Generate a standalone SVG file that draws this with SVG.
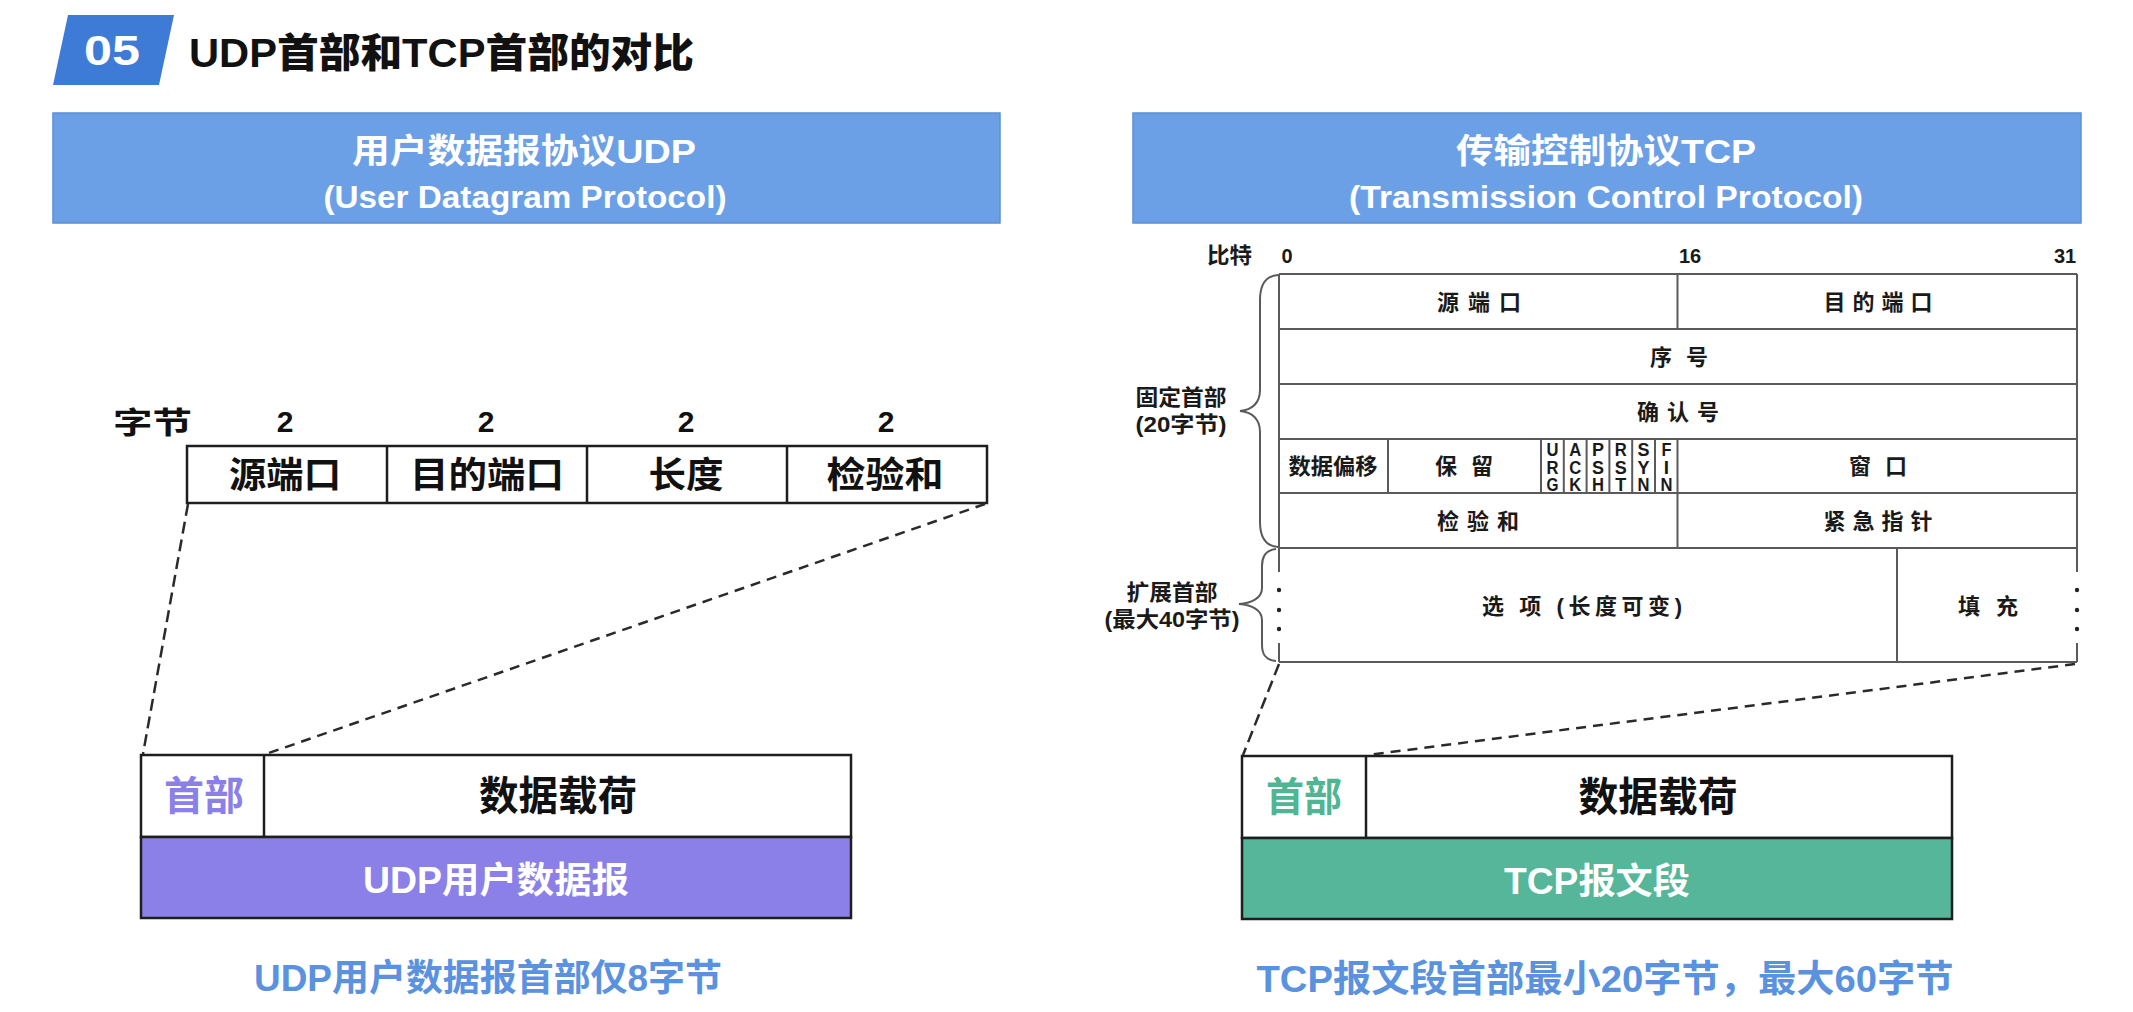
<svg xmlns="http://www.w3.org/2000/svg" width="2133" height="1012" viewBox="0 0 2133 1012">
<style>
text{font-family:"Liberation Sans","Noto Sans CJK SC",sans-serif;font-weight:700}
.c{text-anchor:middle}
.hd{fill:#fff}
.tb{fill:#1a1a1a;font-size:22px}
.tl{stroke:#5a5a5a;stroke-width:2;fill:none}
.bk{stroke:#1e1e1e;stroke-width:2.5}
.dash{stroke:#2a2a2a;stroke-width:2.5;fill:none}
.flag{font-family:"Liberation Sans",sans-serif;font-weight:700;font-size:19px;text-anchor:middle;fill:#1a1a1a}
.cap{fill:#5a92e0;font-size:37px}
</style>
<rect width="2133" height="1012" fill="#ffffff"/>

<g id="title">
  <polygon points="68,15 174,15 159,85 53,85" fill="#3d7bd6"/>
  <text class="c hd" x="112" y="65" font-size="42" textLength="56" lengthAdjust="spacingAndGlyphs">05</text>
  <text x="189" y="67" font-size="40" style="font-weight:900" fill="#111" textLength="505" lengthAdjust="spacingAndGlyphs">UDP首部和TCP首部的对比</text>
</g>

<g id="udp-banner">
  <rect x="53" y="113" width="947" height="110" fill="#6ca0e6" stroke="#5b8fd6" stroke-width="1.5"/>
  <text class="c hd" x="524" y="163" font-size="34" textLength="344" lengthAdjust="spacingAndGlyphs">用户数据报协议UDP</text>
  <text class="c hd" x="525" y="208" font-size="31" textLength="403" lengthAdjust="spacingAndGlyphs">(User Datagram Protocol)</text>
</g>

<g id="tcp-banner">
  <rect x="1133" y="113" width="948" height="110" fill="#6ca0e6" stroke="#5b8fd6" stroke-width="1.5"/>
  <text class="c hd" x="1606" y="163" font-size="34" textLength="300" lengthAdjust="spacingAndGlyphs">传输控制协议TCP</text>
  <text class="c hd" x="1606" y="208" font-size="31" textLength="514" lengthAdjust="spacingAndGlyphs">(Transmission Control Protocol)</text>
</g>

<g id="udp-header">
  <text x="113" y="433" font-size="30" fill="#111" textLength="79" lengthAdjust="spacingAndGlyphs">字节</text>
  <text class="c" x="285" y="432" font-size="30" fill="#111">2</text>
  <text class="c" x="486" y="432" font-size="30" fill="#111">2</text>
  <text class="c" x="686" y="432" font-size="30" fill="#111">2</text>
  <text class="c" x="886" y="432" font-size="30" fill="#111">2</text>
  <rect x="187" y="446" width="800" height="57" fill="#fff" class="bk"/>
  <line x1="387" y1="446" x2="387" y2="503" class="bk"/>
  <line x1="587" y1="446" x2="587" y2="503" class="bk"/>
  <line x1="787" y1="446" x2="787" y2="503" class="bk"/>
  <text class="c" x="285" y="488" font-size="36" fill="#111" textLength="112" lengthAdjust="spacingAndGlyphs">源端口</text>
  <text class="c" x="487" y="488" font-size="36" fill="#111" textLength="154" lengthAdjust="spacingAndGlyphs">目的端口</text>
  <text class="c" x="686" y="488" font-size="36" fill="#111" textLength="75" lengthAdjust="spacingAndGlyphs">长度</text>
  <text class="c" x="885" y="488" font-size="36" fill="#111" textLength="117" lengthAdjust="spacingAndGlyphs">检验和</text>
</g>

<g id="udp-datagram">
  <rect x="141" y="755" width="710" height="82" fill="#fff" class="bk"/>
  <rect x="141" y="837" width="710" height="81" fill="#8a80e8" class="bk"/>
  <line x1="264" y1="755" x2="264" y2="837" class="bk"/>
  <text class="c" x="204" y="810" font-size="40" fill="#8a80e8" textLength="80" lengthAdjust="spacingAndGlyphs">首部</text>
  <text class="c" x="558" y="810" font-size="40" fill="#111" textLength="158" lengthAdjust="spacingAndGlyphs">数据载荷</text>
  <text class="c hd" x="496" y="893" font-size="36" textLength="266" lengthAdjust="spacingAndGlyphs">UDP用户数据报</text>
</g>

<g id="udp-caption">
  <text class="c cap" x="488" y="991" textLength="468" lengthAdjust="spacingAndGlyphs">UDP用户数据报首部仅8字节</text>
</g>

<g id="tcp-header">
  <text x="1207" y="263" class="tb" textLength="45" lengthAdjust="spacingAndGlyphs">比特</text>
  <text class="c" x="1287" y="263" font-size="20" fill="#1a1a1a">0</text>
  <text class="c" x="1690" y="263" font-size="20" fill="#1a1a1a">16</text>
  <text class="c" x="2065" y="263" font-size="20" fill="#1a1a1a">31</text>

  <path class="tl" d="M1279,274 H2077 M1279,329 H2077 M1279,384 H2077 M1279,439 H2077 M1279,493 H2077 M1279,548 H2077 M1279,662 H2077"/>
  <path class="tl" d="M1279,274 V572 M2077,274 V572 M1279,643 V662 M2077,643 V662"/>
  <path class="tl" d="M1677.5,274 V329 M1677.5,439 V548 M1388,439 V493 M1541,439 V493 M1563.8,439 V493 M1586.6,439 V493 M1609.4,439 V493 M1632.2,439 V493 M1655,439 V493 M1897,548 V662"/>
  <g fill="#222">
    <circle cx="1279" cy="590" r="2.2"/><circle cx="1279" cy="610" r="2.2"/><circle cx="1279" cy="629" r="2.2"/>
    <circle cx="2077" cy="590" r="2.2"/><circle cx="2077" cy="610" r="2.2"/><circle cx="2077" cy="629" r="2.2"/>
  </g>

  <text class="c tb" x="1479" y="310" textLength="84">源 端 口</text>
  <text class="c tb" x="1878" y="310" textLength="109">目 的 端 口</text>
  <text class="c tb" x="1679" y="365" textLength="58">序 号</text>
  <text class="c tb" x="1678" y="420" textLength="82">确 认 号</text>
  <text class="c tb" x="1333" y="474" textLength="89" lengthAdjust="spacingAndGlyphs">数据偏移</text>
  <text class="c tb" x="1464" y="474" textLength="58">保 留</text>
  <text class="c tb" x="1878" y="474" textLength="58">窗 口</text>
  <text class="c tb" x="1478" y="529" textLength="82">检 验 和</text>
  <text class="c tb" x="1878" y="529" textLength="109">紧 急 指 针</text>
  <text class="c tb" x="1582" y="614" textLength="200">选 项 (长度可变)</text>
  <text class="c tb" x="1988" y="614" textLength="60">填 充</text>

  <text class="flag" x="1552.4" y="456" textLength="12" lengthAdjust="spacingAndGlyphs">U</text>
  <text class="flag" x="1552.4" y="473.5" textLength="12" lengthAdjust="spacingAndGlyphs">R</text>
  <text class="flag" x="1552.4" y="491" textLength="12" lengthAdjust="spacingAndGlyphs">G</text>
  <text class="flag" x="1575.2" y="456" textLength="12" lengthAdjust="spacingAndGlyphs">A</text>
  <text class="flag" x="1575.2" y="473.5" textLength="12" lengthAdjust="spacingAndGlyphs">C</text>
  <text class="flag" x="1575.2" y="491" textLength="12" lengthAdjust="spacingAndGlyphs">K</text>
  <text class="flag" x="1598" y="456" textLength="12" lengthAdjust="spacingAndGlyphs">P</text>
  <text class="flag" x="1598" y="473.5" textLength="12" lengthAdjust="spacingAndGlyphs">S</text>
  <text class="flag" x="1598" y="491" textLength="12" lengthAdjust="spacingAndGlyphs">H</text>
  <text class="flag" x="1620.8" y="456" textLength="12" lengthAdjust="spacingAndGlyphs">R</text>
  <text class="flag" x="1620.8" y="473.5" textLength="12" lengthAdjust="spacingAndGlyphs">S</text>
  <text class="flag" x="1620.8" y="491" textLength="11" lengthAdjust="spacingAndGlyphs">T</text>
  <text class="flag" x="1643.6" y="456" textLength="12" lengthAdjust="spacingAndGlyphs">S</text>
  <text class="flag" x="1643.6" y="473.5" textLength="12" lengthAdjust="spacingAndGlyphs">Y</text>
  <text class="flag" x="1643.6" y="491" textLength="12" lengthAdjust="spacingAndGlyphs">N</text>
  <text class="flag" x="1666.4" y="456" textLength="10" lengthAdjust="spacingAndGlyphs">F</text>
  <text class="flag" x="1666.4" y="473.5">I</text>
  <text class="flag" x="1666.4" y="491" textLength="12" lengthAdjust="spacingAndGlyphs">N</text>
</g>

<g id="tcp-fixed-label">
  <path class="tl" stroke="#444" d="M1278,275 C1265,276 1260,285 1260,300 L1260,390 C1260,403 1252,410 1240,411 C1252,412 1260,419 1260,432 L1260,522 C1260,537 1265,546 1278,547"/>
  <text class="c tb" x="1181" y="405" textLength="91" lengthAdjust="spacingAndGlyphs">固定首部</text>
  <text class="c tb" x="1181" y="432" textLength="91" lengthAdjust="spacingAndGlyphs">(20字节)</text>
</g>

<g id="tcp-ext-label">
  <path class="tl" stroke="#444" d="M1276,549 C1266,550 1262,556 1262,566 L1262,588 C1262,598 1252,603 1239,604 C1252,605 1262,610 1262,620 L1262,645 C1262,655 1266,660 1276,661"/>
  <text class="c tb" x="1172" y="600" textLength="91" lengthAdjust="spacingAndGlyphs">扩展首部</text>
  <text class="c tb" x="1172" y="627" textLength="135" lengthAdjust="spacingAndGlyphs">(最大40字节)</text>
</g>

<g id="tcp-segment">
  <rect x="1242" y="756" width="710" height="82" fill="#fff" class="bk"/>
  <rect x="1242" y="838" width="710" height="81" fill="#56b69a" class="bk"/>
  <line x1="1366" y1="756" x2="1366" y2="838" class="bk"/>
  <text class="c" x="1304" y="811" font-size="40" fill="#4fb592" textLength="76" lengthAdjust="spacingAndGlyphs">首部</text>
  <text class="c" x="1658" y="811" font-size="40" fill="#111" textLength="159" lengthAdjust="spacingAndGlyphs">数据载荷</text>
  <text class="c hd" x="1597" y="894" font-size="36" textLength="186" lengthAdjust="spacingAndGlyphs">TCP报文段</text>
</g>

<g id="tcp-caption">
  <text class="c cap" x="1605" y="992" textLength="697" lengthAdjust="spacingAndGlyphs">TCP报文段首部最小20字节，最大60字节</text>
</g>

<g id="connectors">
  <line class="dash" x1="188" y1="504" x2="143" y2="754" stroke-dasharray="12 6"/>
  <line class="dash" x1="985" y1="504" x2="266" y2="754" stroke-dasharray="10 7"/>
  <line class="dash" x1="1279" y1="664" x2="1243" y2="755" stroke-dasharray="12 6"/>
  <line class="dash" x1="2075" y1="664" x2="1368" y2="755" stroke-dasharray="10 7"/>
</g>
</svg>
